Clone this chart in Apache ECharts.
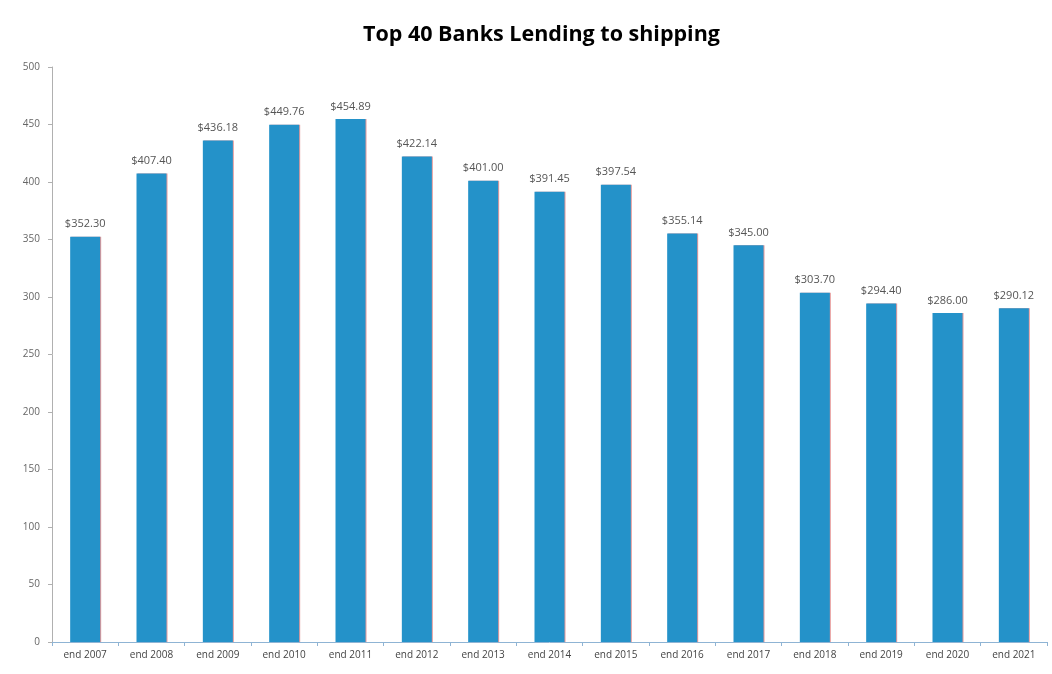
<!DOCTYPE html>
<html>
<head>
<meta charset="utf-8">
<script src="https://cdn.jsdelivr.net/npm/echarts@6/dist/echarts.min.js"></script>
<style>
  html, body { margin: 0; padding: 0; background: #ffffff; }
  #chart { width: 1052px; height: 674px; }
</style>
</head>
<body>
<div id="chart"></div>
<script>
// Year-end lending to shipping by the top 40 banks (US$ bn)
const categories = ['end 2007', 'end 2008', 'end 2009', 'end 2010', 'end 2011', 'end 2012', 'end 2013',
  'end 2014', 'end 2015', 'end 2016', 'end 2017', 'end 2018', 'end 2019', 'end 2020', 'end 2021'];
const lending = [352.30, 407.40, 436.18, 449.76, 454.89, 422.14, 401.00,
  391.45, 397.54, 355.14, 345.00, 303.70, 294.40, 286.00, 290.12];
const yTicks = [0, 50, 100, 150, 200, 250, 300, 350, 400, 450, 500];

const chart = echarts.init(document.getElementById('chart'));
chart.setOption({
  animation: false,
  backgroundColor: '#ffffff',
  title: {
    text: 'Top 40 Banks Lending to shipping',
    left: 358,
    top: 19,
    textStyle: { fontFamily: 'Open Sans', fontWeight: 'bold', fontSize: 21.5, color: '#000000' }
  },
  grid: { left: 52, right: 5, top: 67, bottom: 32 },
  xAxis: {
    type: 'category',
    data: categories,
    axisLine: { lineStyle: { color: '#8fb4d4', width: 1 } },
    axisTick: { show: true, alignWithLabel: false, length: 4, lineStyle: { color: '#8fb4d4' } },
    axisLabel: { fontFamily: 'Open Sans', fontSize: 10, color: '#444444', margin: 8 }
  },
  yAxis: {
    type: 'value',
    min: yTicks[0],
    max: yTicks[yTicks.length - 1],
    interval: 50,
    axisLine: { show: true, lineStyle: { color: '#b0b0b0', width: 1 } },
    axisTick: { show: true, length: 4, lineStyle: { color: '#b0b0b0' } },
    axisLabel: { fontFamily: 'Open Sans', fontSize: 10, color: '#666666', margin: 12 },
    splitLine: { show: false }
  },
  series: [{
    type: 'bar',
    data: lending,
    barWidth: 30,
    itemStyle: {
      color: '#2492c9',
      shadowColor: 'rgba(220,110,110,0.7)',
      shadowOffsetX: 1,
      shadowBlur: 0
    },
    label: {
      show: true,
      position: 'top',
      distance: 7,
      fontFamily: 'Open Sans',
      fontSize: 11,
      color: '#555555',
      formatter: p => '$' + p.value.toFixed(2)
    }
  }]
});
</script>
</body>
</html>
